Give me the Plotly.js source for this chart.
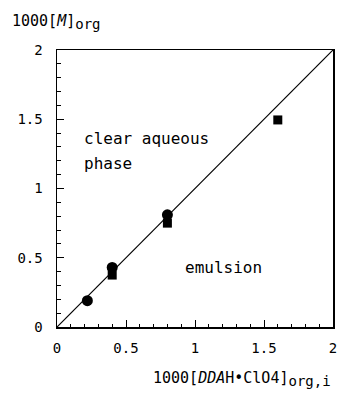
<!DOCTYPE html>
<html>
<head>
<meta charset="utf-8">
<script src="https://cdn.plot.ly/plotly-3.0.1.min.js"></script>
<style>html,body{margin:0;padding:0;background:#fff}</style>
</head>
<body>
<div id="chart" style="width:343px;height:394px"></div>
<script>
const circleX = [0.22, 0.40, 0.80];
const circleY = [0.19, 0.43, 0.81];
const squareX = [0.40, 0.80, 1.60];
const squareY = [0.375, 0.75, 1.495];
const lineX = [0, 2];
const lineY = [0, 2];
const tickVals = [0, 0.5, 1, 1.5, 2];
const tickText = ['0', '0.5', '1', '1.5', '2'];

const F = 'DejaVu Sans Mono, monospace';

const traces = [
  {x: lineX, y: lineY, mode: 'lines', line: {color: '#000', width: 1.2}, hoverinfo: 'skip'},
  {x: squareX, y: squareY, mode: 'markers', marker: {symbol: 'square', size: 9, color: '#000'}},
  {x: circleX, y: circleY, mode: 'markers', marker: {symbol: 'circle', size: 11, color: '#000'}}
];

const axisCommon = {
  range: [0, 2],
  tickvals: tickVals,
  ticktext: tickText,
  ticks: 'inside',
  ticklen: 7,
  tickwidth: 1,
  tickcolor: '#000',
  minor: {dtick: 0.1, ticks: 'inside', ticklen: 3.5, tickcolor: '#000', tickwidth: 1},
  showline: true,
  linecolor: '#000',
  linewidth: 1.5,
  mirror: true,
  showgrid: false,
  zeroline: false,
  tickfont: {family: F, size: 14, color: '#000'},
  fixedrange: true
};

const layout = {
  width: 343,
  height: 394,
  margin: {l: 57, r: 10, t: 50, b: 67},
  paper_bgcolor: '#fff',
  plot_bgcolor: '#fff',
  showlegend: false,
  xaxis: Object.assign({}, axisCommon, {ticklabelstandoff: 8}),
  yaxis: Object.assign({}, axisCommon, {ticklabelstandoff: 10}),
  annotations: [
    {text: 'clear aqueous', x: 0.18, y: 1.36, xref: 'x', yref: 'y', xanchor: 'left', yanchor: 'middle', showarrow: false, font: {family: F, size: 16, color: '#000'}},
    {text: 'phase', x: 0.18, y: 1.18, xref: 'x', yref: 'y', xanchor: 'left', yanchor: 'middle', showarrow: false, font: {family: F, size: 16, color: '#000'}},
    {text: 'emulsion', x: 0.91, y: 0.43, xref: 'x', yref: 'y', xanchor: 'left', yanchor: 'middle', showarrow: false, font: {family: F, size: 16, color: '#000'}},
    {text: '1000[<i>M</i>]<sub><span style="font-size:14px">org</span></sub>', x: -47 / 276, y: 1 + 28 / 277, xref: 'paper', yref: 'paper', showarrow: false, font: {family: F, size: 15, color: '#000'}, xanchor: 'left', yanchor: 'middle'},
    {text: '1000[<i>DDA</i>H•ClO4]<sub><span style="font-size:14px">org,i</span></sub>', x: 1, y: 0, xref: 'paper', yref: 'paper', showarrow: false, font: {family: F, size: 15, color: '#000'}, xanchor: 'right', yanchor: 'top', yshift: -40}
  ]
};

Plotly.newPlot('chart', traces, layout, {displayModeBar: false, staticPlot: true});
</script>
</body>
</html>
